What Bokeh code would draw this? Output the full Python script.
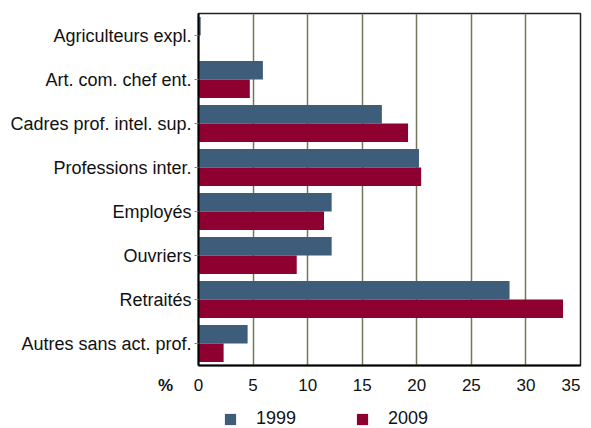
from bokeh.plotting import figure
from bokeh.layouts import column
from bokeh.models import (FactorRange, Range1d, Legend, LegendItem, Label,
                          FixedTicker, ColumnDataSource)
from bokeh.core.properties import value
from bokeh.transform import dodge
from bokeh.embed import file_html
from bokeh.resources import INLINE

categories = ["Agriculteurs expl.", "Art. com. chef ent.", "Cadres prof. intel. sup.",
              "Professions inter.", "Employés", "Ouvriers", "Retraités",
              "Autres sans act. prof."]
values_1999 = [0.2, 5.9, 16.8, 20.2, 12.2, 12.2, 28.5, 4.5]
values_2009 = [0.0, 4.7, 19.2, 20.4, 11.5, 9.0, 33.4, 2.3]
series = ["1999", "2009"]
colors = ["#3d5d7b", "#8d0030"]
x_ticks = [0, 5, 10, 15, 20, 25, 30, 35]
tick_labels = [str(t) for t in x_ticks]
unit_label = "%"

W = 591
LEFT, RIGHT, TOP = 198, 11, 13
H1 = 367           # main chart (frame bottom at 365 + axis line)
H2 = 61            # strip with tick labels, unit and legend
X_MAX = 35
FONT = "Liberation Sans"
TXT = "#111111"

src = ColumnDataSource(dict(cat=categories, v1999=values_1999, v2009=values_2009))

p = figure(width=W, height=H1, output_backend="svg", toolbar_location=None,
           y_range=FactorRange(factors=list(reversed(categories)), range_padding=0),
           x_range=Range1d(0, X_MAX),
           min_border_left=LEFT, min_border_right=RIGHT, min_border_top=TOP,
           min_border_bottom=2)

bar_h = 0.418
r1 = p.hbar(y=dodge("cat", bar_h / 2, range=p.y_range), left=0, right="v1999",
            height=bar_h, color=colors[0], line_color=None, source=src)
r2 = p.hbar(y=dodge("cat", -bar_h / 2, range=p.y_range), left=0, right="v2009",
            height=bar_h, color=colors[1], line_color=None, source=src)

p.ygrid.grid_line_color = None
p.xgrid.grid_line_color = "#75745f"
p.xgrid.grid_line_width = 1.5
p.xgrid.ticker = FixedTicker(ticks=x_ticks[1:-1])

p.outline_line_color = "#222222"
p.outline_line_width = 1.5

# the value axis line; its labels are drawn in the strip below
p.xaxis.ticker = FixedTicker(ticks=[])
p.xaxis.axis_line_color = "black"
p.xaxis.axis_line_width = 2
p.xaxis.major_tick_in = 0
p.xaxis.major_tick_out = 0
p.xaxis.minor_tick_line_color = None
p.xaxis.major_label_standoff = 0

p.yaxis.axis_line_color = "black"
p.yaxis.axis_line_width = 2
p.yaxis.major_tick_in = 0
p.yaxis.major_tick_out = 4
p.yaxis.major_tick_line_color = "#888888"
p.yaxis.major_label_text_font = FONT
p.yaxis.major_label_text_font_size = "18px"
p.yaxis.major_label_text_color = TXT
p.yaxis.major_label_standoff = 3

# ---- lower strip: value-axis labels, unit and legend, same x scale ----
frame_w = W - LEFT - RIGHT
scale = frame_w / X_MAX                       # px per unit in the main chart
q = figure(width=W, height=H2, output_backend="svg", toolbar_location=None,
           x_range=Range1d(-LEFT / scale, X_MAX + RIGHT / scale),
           y_range=Range1d(0, H2),
           x_axis_location=None, y_axis_location=None,
           min_border_left=0, min_border_right=0, min_border_top=0,
           min_border_bottom=0)
for fig in (p, q):
    if "frame_align" in fig.properties():
        fig.frame_align = False
q.outline_line_color = None
q.grid.grid_line_color = None

label_y = H2 - 17.5
tick_src = ColumnDataSource(dict(x=x_ticks[:-1], text=tick_labels[:-1],
                                 y=[label_y] * (len(x_ticks) - 1)))
q.text(x="x", y="y", text="text", source=tick_src, text_align="center",
       text_baseline="middle", text_font=value(FONT), text_font_size="17px",
       text_color=TXT)
last_src = ColumnDataSource(dict(x=x_ticks[-1:], text=tick_labels[-1:], y=[label_y]))
q.text(x="x", y="y", text="text", source=last_src, text_align="right",
       text_baseline="middle", text_font=value(FONT), text_font_size="17px",
       text_color=TXT)

q.add_layout(Label(x=165, x_units="screen", y=label_y, y_units="screen",
                   text=unit_label, text_align="center", text_baseline="middle",
                   text_font=FONT, text_font_size="17px", text_font_style="bold",
                   text_color=TXT))

# legend entries (zero-length stand-in bars carry the series colours)
l1 = q.hbar(y=[-10], left=[0], right=[0], height=1, color=colors[0], line_color=None)
l2 = q.hbar(y=[-10], left=[0], right=[0], height=1, color=colors[1], line_color=None)
legend = Legend(items=[LegendItem(label=series[0], renderers=[l1]),
                       LegendItem(label=series[1], renderers=[l2])],
                location=(223, -1), orientation="horizontal",
                glyph_width=14, glyph_height=14, label_standoff=19, spacing=59,
                padding=0, margin=0, border_line_color=None,
                background_fill_alpha=0,
                label_text_font=FONT, label_text_font_size="18px",
                label_text_color=TXT, label_height=14)
q.add_layout(legend, "center")

layout = column(p, q, spacing=0)
open("out.html", "w").write(file_html(layout, INLINE))
